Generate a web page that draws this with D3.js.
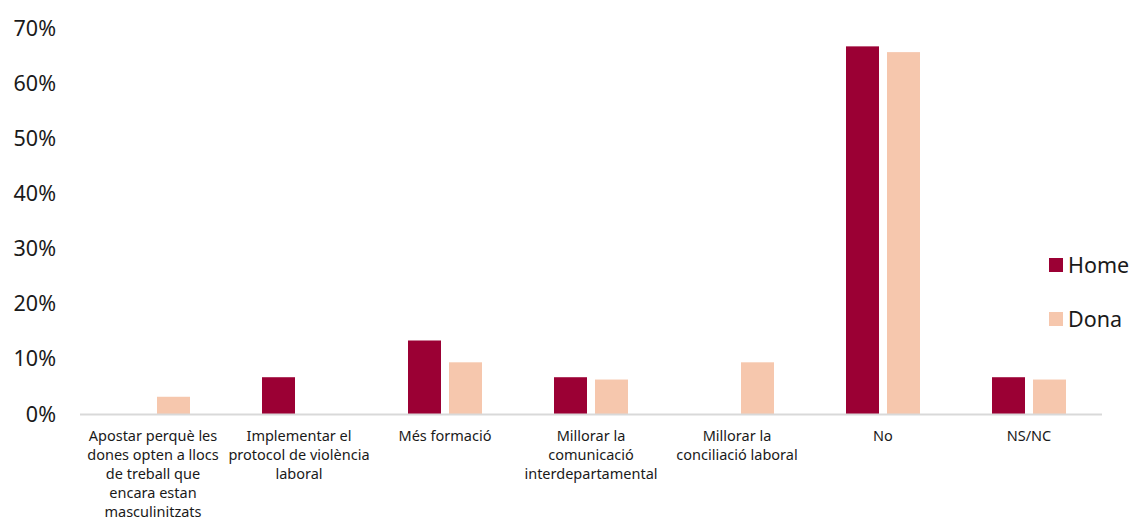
<!DOCTYPE html>
<html>
<head>
<meta charset="utf-8">
<script src="https://cdn.jsdelivr.net/npm/d3@7"></script>
<style>
  body { margin: 0; background: #fff; }
  svg text { font-family: "Noto Sans", "Open Sans", sans-serif; fill: #1a1a1a; }
</style>
</head>
<body>
<div id="chart"></div>
<script>
// Data
const categories = [
  "Apostar perquè les\ndones opten a llocs\nde treball que\nencara estan\nmasculinitzats",
  "Implementar el\nprotocol de violència\nlaboral",
  "Més formació",
  "Millorar la\ncomunicació\ninterdepartamental",
  "Millorar la\nconciliació laboral",
  "No",
  "NS/NC"
];
const seriesNames = ["Home", "Dona"];
const homeValues = [0, 0.0667, 0.1333, 0.0667, 0, 0.6667, 0.0667];
const donaValues = [0.03125, 0, 0.09375, 0.0625, 0.09375, 0.65625, 0.0625];
const yTicks = [0, 0.1, 0.2, 0.3, 0.4, 0.5, 0.6, 0.7];

const colors = { Home: "#9b0034", Dona: "#f6c7ad" };

const width = 1131, height = 517;
const margin = { top: 28, right: 29, bottom: 103, left: 80 };
const innerW = width - margin.left - margin.right;
const innerH = height - margin.top - margin.bottom;

const svg = d3.select("#chart")
  .append("svg")
  .attr("width", width)
  .attr("height", height);

const g = svg.append("g").attr("transform", `translate(${margin.left},${margin.top})`);

// Scales
const x = d3.scaleBand().domain(categories).range([0, innerW]).paddingInner(0).paddingOuter(0);
const x1 = d3.scaleBand().domain(seriesNames).range([36, x.bandwidth() - 36]).paddingInner(8 / 41);
const y = d3.scaleLinear().domain([0, 0.7]).range([innerH, 0]);

// Y axis labels (no axis line)
g.selectAll(".ytick")
  .data(yTicks)
  .enter()
  .append("text")
  .attr("class", "ytick")
  .attr("x", -24)
  .attr("y", d => y(d))
  .attr("dy", "0.35em")
  .style("text-anchor", "end")
  .style("font-size", "21.5px")
  .text(d3.format(".0%"));

// Bars
const rows = categories.map((c, i) => ({ cat: c, Home: homeValues[i], Dona: donaValues[i] }));

const groups = g.selectAll(".grp")
  .data(rows)
  .enter()
  .append("g")
  .attr("class", "grp")
  .attr("transform", d => `translate(${x(d.cat)},0)`);

groups.selectAll("rect")
  .data(d => seriesNames.map(k => ({ key: k, value: d[k] })))
  .enter()
  .append("rect")
  .attr("x", d => x1(d.key))
  .attr("width", x1.bandwidth())
  .attr("y", d => y(d.value))
  .attr("height", d => innerH - y(d.value))
  .style("fill", d => colors[d.key]);

// X axis line
g.append("line")
  .attr("x1", 0)
  .attr("x2", innerW)
  .attr("y1", innerH + 0.5)
  .attr("y2", innerH + 0.5)
  .style("stroke", "#d9d9d9")
  .style("stroke-width", "2px");

// Category labels
categories.forEach(c => {
  const t = g.append("text")
    .attr("x", x(c) + x.bandwidth() / 2)
    .attr("y", innerH + 27)
    .style("text-anchor", "middle")
    .style("font-size", "14.5px");
  c.split("\n").forEach((line, i) => {
    t.append("tspan")
      .attr("x", x(c) + x.bandwidth() / 2)
      .attr("dy", i === 0 ? 0 : 19)
      .text(line);
  });
});

// Legend
const legend = svg.append("g").attr("transform", "translate(1049,265)");
seriesNames.forEach((s, i) => {
  legend.append("rect")
    .attr("x", 0)
    .attr("y", i * 54 - 7)
    .attr("width", 14)
    .attr("height", 14)
    .style("fill", colors[s]);
  legend.append("text")
    .attr("x", 19)
    .attr("y", i * 54)
    .attr("dy", "0.35em")
    .style("font-size", "21.5px")
    .text(s);
});
</script>
</body>
</html>
